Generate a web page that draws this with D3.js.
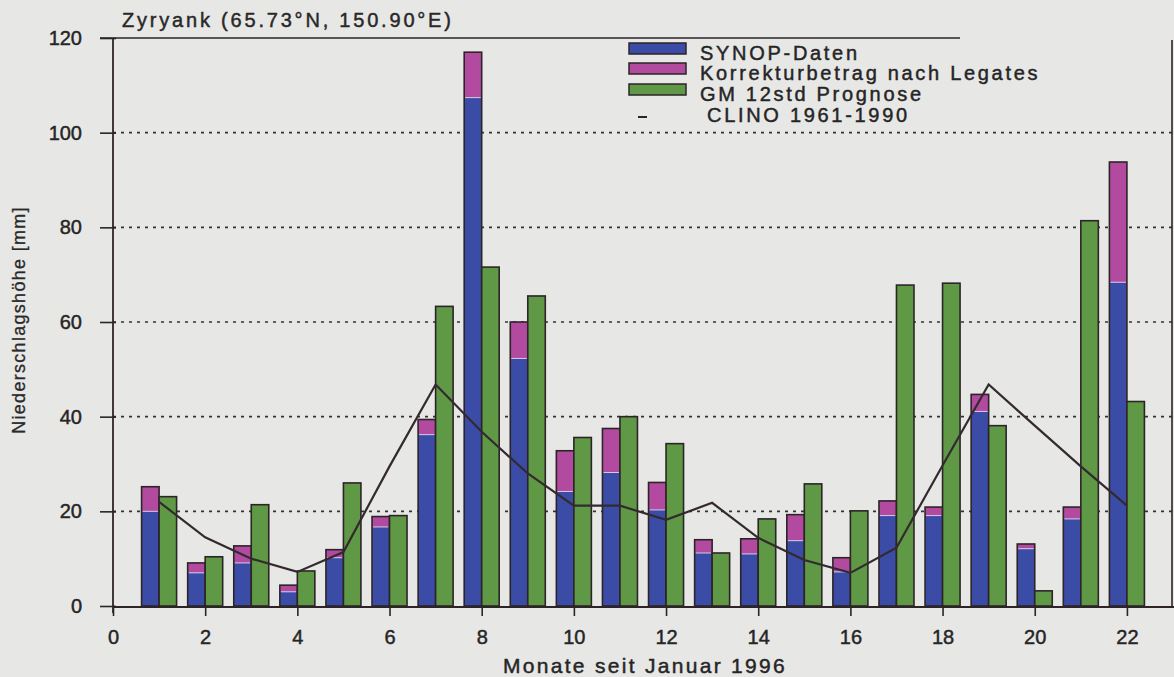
<!DOCTYPE html>
<html>
<head>
<meta charset="utf-8">
<script src="https://cdn.jsdelivr.net/npm/d3@7"></script>
<style>
	body { margin: 0; background: #e7e7e5; }
	svg { display: block; font-family: 'Liberation Sans', Arial, sans-serif; }
	svg text { stroke: #252525; stroke-width: 0.45px; }
</style>
</head>
<body>
<div class="chart"></div>
<script>
// Monate seit Januar 1996
const months = [1,2,3,4,5,6,7,8,9,10,11,12,13,14,15,16,17,18,19,20,21,22];
// SYNOP-Daten [mm]
const synop = [20, 7, 9.1, 3, 10.2, 16.7, 36.2, 107.4, 52.3, 24.2, 28.2, 20.3, 11.2, 11, 13.8, 7.2, 19.1, 19.1, 41.1, 12.1, 18.4, 68.4];
// Korrekturbetrag nach Legates [mm]
const korrektur = [5.2, 2.1, 3.6, 1.4, 1.7, 2.2, 3.2, 9.6, 7.7, 8.6, 9.3, 5.8, 2.8, 3.2, 5.5, 3, 3.1, 1.8, 3.6, 1, 2.5, 25.4];
// GM 12std Prognose [mm]
const prognose = [23.1, 10.4, 21.4, 7.4, 26, 19.1, 63.3, 71.6, 65.5, 35.6, 40, 34.3, 11.2, 18.4, 25.8, 20.1, 67.8, 68.2, 38.1, 3.2, 81.4, 43.2];
// CLINO 1961-1990 [mm]
const clino = [22, 14.5, 10, 7.2, 11.4, 29.5, 46.8, 36.8, 28, 21.2, 21.2, 18.2, 21.8, 14.4, 9.7, 7, 12.3, 29.7, 46.8, 38.1, 29.5, 21.2];

const xTicks = [0,2,4,6,8,10,12,14,16,18,20,22];
const yTicks = [0,20,40,60,80,100,120];
const legendItems = ['SYNOP-Daten', 'Korrekturbetrag nach Legates', 'GM 12std Prognose', 'CLINO 1961-1990'];

const colors = { synop: '#3b4ca6', korr: '#b24a9f', gm: '#5f9946', ink: '#2d2428' };

let width = 1174, height = 677;
let margin = {top: 38, left: 113};
let barWidth = 17.5;

let x = d3.scaleLinear().domain([0, 23]).range([margin.left, 1173]);
let y = d3.scaleLinear().domain([0, 120]).range([606, margin.top]);

let svg = d3.select('.chart').append('svg')
	.attr('width', width)
	.attr('height', height);

// dotted grid lines
svg.append('g').selectAll('line')
	.data(yTicks.filter(function(d){ return d > 0 && d < 120 }))
	.enter().append('line')
	.attr('x1', x(0)).attr('x2', 1172)
	.attr('y1', function(d){ return y(d) }).attr('y2', function(d){ return y(d) })
	.attr('stroke', '#333').attr('stroke-width', 1.6)
	.attr('stroke-dasharray', '3,5');

// top border and right frame
svg.append('line')
	.attr('x1', x(0) - 13).attr('x2', 960)
	.attr('y1', y(120)).attr('y2', y(120))
	.attr('stroke', colors.ink).attr('stroke-width', 1.6);
svg.append('line')
	.attr('x1', 1172).attr('x2', 1172)
	.attr('y1', y(120) + 2).attr('y2', y(0))
	.attr('stroke', colors.ink).attr('stroke-width', 1.6);

const rows = months.map(function(m, i){
	return {m: m, synop: synop[i], korr: korrektur[i], gm: prognose[i]};
});

let pairs = svg.append('g').selectAll('g')
	.data(rows).enter()
	.append('g');

// blue + magenta stack, left of the month
pairs.append('rect')
	.attr('x', function(d){ return x(d.m) - barWidth })
	.attr('y', function(d){ return y(d.synop + d.korr) })
	.attr('width', barWidth)
	.attr('height', function(d){ return y(d.synop) - y(d.synop + d.korr) })
	.attr('fill', colors.korr);
pairs.append('rect')
	.attr('x', function(d){ return x(d.m) - barWidth })
	.attr('y', function(d){ return y(d.synop) })
	.attr('width', barWidth)
	.attr('height', function(d){ return y(0) - y(d.synop) })
	.attr('fill', colors.synop);
pairs.append('line')
	.attr('x1', function(d){ return x(d.m) - barWidth + 1 })
	.attr('x2', function(d){ return x(d.m) - 1 })
	.attr('y1', function(d){ return y(d.synop) })
	.attr('y2', function(d){ return y(d.synop) })
	.attr('stroke', '#d9c8e6').attr('stroke-width', 1);
pairs.append('rect')
	.attr('x', function(d){ return x(d.m) - barWidth })
	.attr('y', function(d){ return y(d.synop + d.korr) })
	.attr('width', barWidth)
	.attr('height', function(d){ return y(0) - y(d.synop + d.korr) })
	.attr('fill', 'none')
	.attr('stroke', colors.ink).attr('stroke-width', 1.6);

// green forecast bar, right of the month
pairs.append('rect')
	.attr('x', function(d){ return x(d.m) })
	.attr('y', function(d){ return y(d.gm) })
	.attr('width', barWidth)
	.attr('height', function(d){ return y(0) - y(d.gm) })
	.attr('fill', colors.gm)
	.attr('stroke', colors.ink).attr('stroke-width', 1.6);

// climatology line
let line = d3.line()
	.x(function(d, i){ return x(months[i]) })
	.y(function(d){ return y(d) });

svg.append('path')
	.datum(clino)
	.attr('d', line)
	.attr('fill', 'none')
	.attr('stroke', '#332a30')
	.attr('stroke-width', 2.2);

// axes
let yAxis = d3.axisLeft(y)
	.tickValues(yTicks)
	.tickSize(13)
	.tickPadding(18);

let xAxis = d3.axisBottom(x)
	.tickValues(xTicks)
	.tickSize(9)
	.tickPadding(14);

let gy = svg.append('g')
	.attr('transform', 'translate(' + x(0) + ',0)')
	.call(yAxis);
gy.select('.domain').remove();
gy.selectAll('.tick line').attr('x2', -13).attr('x1', 3).attr('stroke', colors.ink).attr('stroke-width', 1.6);
gy.selectAll('text')
	.attr('fill', '#252525')
	.style('font-size', '20px')
	.attr('x', -31);

let gx = svg.append('g')
	.attr('transform', 'translate(0,' + (y(0) + 1) + ')')
	.call(xAxis);
gx.select('.domain').remove();
gx.selectAll('.tick line').attr('y1', -2).attr('stroke', colors.ink).attr('stroke-width', 1.6);
gx.selectAll('text')
	.attr('fill', '#252525')
	.style('font-size', '20px');

svg.append('line')
	.attr('x1', x(0)).attr('x2', 1174)
	.attr('y1', y(0) + 1).attr('y2', y(0) + 1)
	.attr('stroke', colors.ink).attr('stroke-width', 1.8);
svg.append('line')
	.attr('x1', x(0)).attr('x2', x(0))
	.attr('y1', y(120)).attr('y2', y(0) + 7)
	.attr('stroke', colors.ink).attr('stroke-width', 1.8);

// texts
svg.append('text')
	.attr('x', 122).attr('y', 27)
	.attr('fill', '#2a2a2a')
	.style('font-size', '20px')
	.style('letter-spacing', '2.8px')
	.text('Zyryank (65.73°N, 150.90°E)');

svg.append('text')
	.attr('x', 645).attr('y', 673)
	.attr('text-anchor', 'middle')
	.attr('fill', '#252525')
	.style('font-size', '21px')
	.style('letter-spacing', '2.3px')
	.text('Monate seit Januar 1996');

svg.append('text')
	.attr('transform', 'translate(25,320)rotate(-90)')
	.attr('text-anchor', 'middle')
	.attr('fill', '#2a2a2a')
	.style('font-size', '18px')
	.style('letter-spacing', '1.3px')
	.style('stroke-width', '0.3px')
	.text('Niederschlagshöhe [mm]');

// legend
let legend = svg.append('g');
const swatchColors = [colors.synop, colors.korr, colors.gm];
const rowY = [60, 80, 101, 122];

legend.selectAll('rect')
	.data(swatchColors).enter()
	.append('rect')
	.attr('x', 629).attr('width', 57)
	.attr('y', function(d, i){ return rowY[i] - 17 })
	.attr('height', 11)
	.attr('fill', function(d){ return d })
	.attr('stroke', colors.ink).attr('stroke-width', 1.5);

legend.append('line')
	.attr('x1', 638).attr('x2', 647)
	.attr('y1', 117).attr('y2', 117)
	.attr('stroke', colors.ink).attr('stroke-width', 2);

legend.selectAll('text')
	.data(legendItems).enter()
	.append('text')
	.attr('x', function(d, i){ return i === 3 ? 707 : 700 })
	.attr('y', function(d, i){ return rowY[i] })
	.attr('fill', '#252525')
	.style('font-size', '20px')
	.style('letter-spacing', '2.7px')
	.text(function(d){ return d });
</script>
</body>
</html>
